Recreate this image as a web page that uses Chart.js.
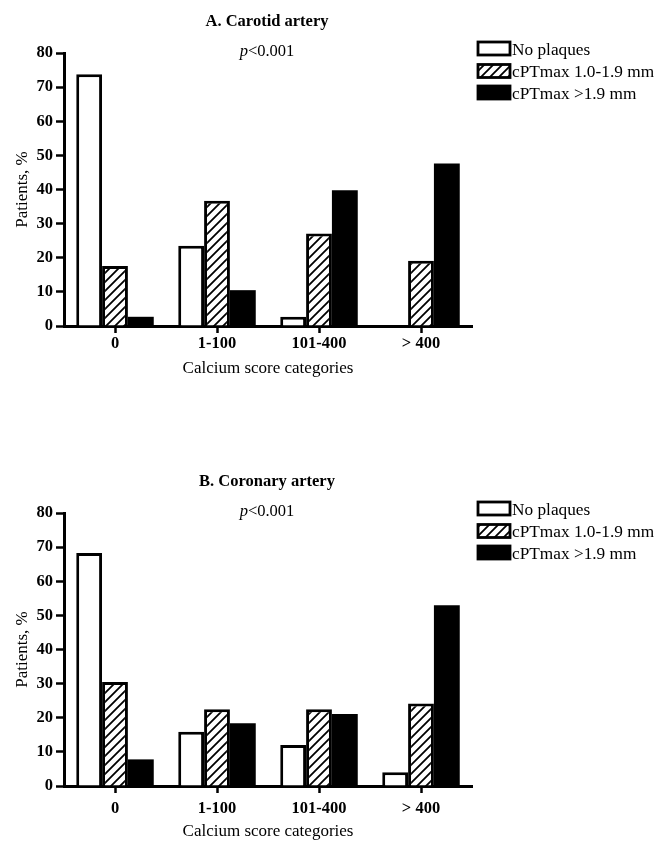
<!DOCTYPE html>
<html><head><meta charset="utf-8">
<script src="https://cdn.jsdelivr.net/npm/chart.js@4.4.1/dist/chart.umd.min.js"></script>
<style>html,body{margin:0;padding:0;background:#fff;} canvas{position:absolute;left:0;}</style>
</head><body>
<canvas id="c1" width="664" height="420" style="top:0px"></canvas>
<canvas id="c2" width="664" height="427" style="top:420px"></canvas>
<script>
// ---- data ----
const categories = ['0', '1-100', '101-400', '> 400'];
const seriesLabels = ['No plaques', 'cPTmax 1.0-1.9 mm', 'cPTmax >1.9 mm'];
const carotidNoPlaques = [73.8, 23.5, 2.7, 0];
const carotidMild = [17.6, 36.7, 27.1, 19.1];
const carotidSevere = [2.7, 10.5, 39.8, 47.6];
const coronaryNoPlaques = [68.3, 15.9, 12.0, 4.0];
const coronaryMild = [30.5, 22.5, 22.5, 24.2];
const coronarySevere = [7.8, 18.4, 21.1, 53.0];
const yMin = 0, yMax = 80, yStep = 10;
const titles = ['A. Carotid artery', 'B. Coronary artery'];
const pText = ['p', '<0.001'];
const yAxisTitle = 'Patients, %';
const xAxisTitle = 'Calcium score categories';

const SERIF = '"Liberation Serif", "Times New Roman", serif';

function makeHatch(ctx) {
  const s = 9;
  const c = document.createElement('canvas');
  c.width = s; c.height = s;
  const x = c.getContext('2d');
  x.fillStyle = '#fff'; x.fillRect(0, 0, s, s);
  x.strokeStyle = '#000'; x.lineWidth = 1.8; x.lineCap = 'square';
  x.beginPath();
  x.moveTo(-2, s + 2); x.lineTo(s + 2, -2);
  x.moveTo(-2, 2); x.lineTo(2, -2);
  x.moveTo(s - 2, s + 2); x.lineTo(s + 2, s - 2);
  x.stroke();
  return ctx.createPattern(c, 'repeat');
}

const annot = {
  id: 'annot',
  afterDraw(chart, args, o) {
    const ctx = chart.ctx; const t = chart.chartArea.top;
    const cx = 267;
    ctx.save();
    ctx.fillStyle = '#000';
    ctx.textBaseline = 'middle';
    ctx.textAlign = 'center';
    ctx.font = 'bold 16.5px ' + SERIF;
    ctx.fillText(o.title, cx, t - 31);
    ctx.font = 'italic 16.5px ' + SERIF;
    const w1 = ctx.measureText(pText[0]).width;
    ctx.font = '16.5px ' + SERIF;
    const w2 = ctx.measureText(pText[1]).width;
    let x = cx - (w1 + w2) / 2;
    ctx.textAlign = 'left';
    ctx.font = 'italic 16.5px ' + SERIF;
    ctx.fillText(pText[0], x, t - 1);
    ctx.font = '16.5px ' + SERIF;
    ctx.fillText(pText[1], x + w1, t - 1);
    const rows = [-4.5, 18, 39.5];
    chart.data.datasets.forEach((ds, i) => {
      const cy = t + rows[i];
      ctx.fillStyle = ds.backgroundColor;
      ctx.fillRect(478, cy - 6.5, 32, 13);
      ctx.lineWidth = 2.8; ctx.strokeStyle = '#000';
      ctx.strokeRect(478, cy - 6.5, 32, 13);
      ctx.fillStyle = '#000';
      ctx.font = '17.3px ' + SERIF;
      ctx.fillText(ds.label, 512, cy + 1.5);
    });
    ctx.restore();
  }
};

function makeChart(id, title, np, mild, severe, L) {
  const canvas = document.getElementById(id);
  const ctx = canvas.getContext('2d');
  const hatch = makeHatch(ctx);
  const common = { borderColor: '#000', categoryPercentage: 0.76, barPercentage: 1.0 };
  return new Chart(ctx, {
    type: 'bar',
    data: {
      labels: categories,
      datasets: [
        Object.assign({ label: seriesLabels[0], data: np, backgroundColor: '#fff', borderWidth: 3 }, common),
        Object.assign({ label: seriesLabels[1], data: mild, backgroundColor: hatch, borderWidth: 3 }, common),
        Object.assign({ label: seriesLabels[2], data: severe, backgroundColor: '#000', borderWidth: 0 }, common)
      ]
    },
    options: {
      responsive: false,
      animation: false,
      layout: { padding: { top: L.top, right: 192, left: 0, bottom: 0 } },
      plugins: {
        legend: { display: false },
        tooltip: { enabled: false },
        title: { display: false },
        annot: { title: title }
      },
      scales: {
        x: {
          z: 1,
          offset: true,
          grid: { display: true, drawOnChartArea: false, drawTicks: true, tickLength: 7, tickWidth: 2.5, tickColor: '#000', offset: false },
          border: { display: true, width: 3, color: '#000' },
          ticks: { color: '#000', padding: L.tickPad, font: { family: SERIF, size: 16.5, weight: 'bold' } },
          title: { display: true, text: xAxisTitle, color: '#000', font: { family: SERIF, size: 17 }, padding: { top: 0, bottom: L.titlePad } },
          afterFit(s) { s.height = L.xh; }
        },
        y: {
          z: 1,
          min: yMin, max: yMax,
          grid: { display: true, drawOnChartArea: false, drawTicks: true, tickLength: 8, tickWidth: 2.5, tickColor: '#000' },
          border: { display: true, width: 3, color: '#000' },
          ticks: { stepSize: yStep, color: '#000', padding: 3, font: { family: SERIF, size: 16.5, weight: 'bold' } },
          title: { display: true, text: yAxisTitle, color: '#000', font: { family: SERIF, size: 17 }, padding: { top: 12, bottom: 0 } },
          afterFit(s) { s.width = 64; }
        }
      }
    },
    plugins: [annot]
  });
}

makeChart('c1', titles[0], carotidNoPlaques, carotidMild, carotidSevere, { top: 53, xh: 94, tickPad: 1, titlePad: 41 });
makeChart('c2', titles[1], coronaryNoPlaques, coronaryMild, coronarySevere, { top: 93, xh: 61, tickPad: 6, titlePad: 5 });
</script>
</body></html>
